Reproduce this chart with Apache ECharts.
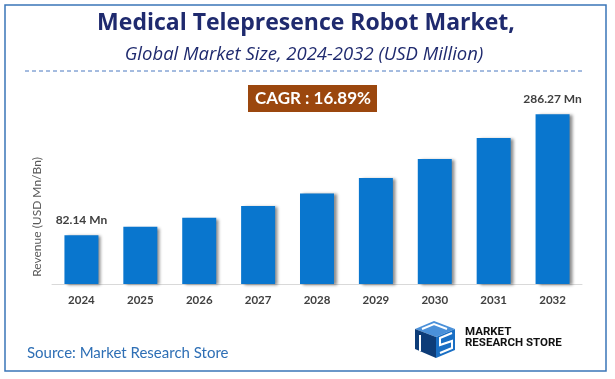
<!DOCTYPE html>
<html><head><meta charset="utf-8">
<script src="https://cdn.jsdelivr.net/npm/echarts@6/dist/echarts.min.js"></script>
<style>html,body{margin:0;padding:0;background:#fff}#c{width:615px;height:379px}</style>
</head><body><div id="c"></div>
<script>
var categories = ['2024','2025','2026','2027','2028','2029','2030','2031','2032'];
var revenue = [82.14, 96.5, 111.7, 131.3, 152.7, 178.5, 210.5, 245.9, 286.27];
var valueLabels = ['82.14 Mn','','','','','','','','286.27 Mn'];
var titleText = 'Medical Telepresence Robot Market,';
var subtitleText = 'Global Market Size, 2024-2032 (USD Million)';
var cagrText = 'CAGR : 16.89%';
var yAxisName = 'Revenue (USD Mn/Bn)';
var sourceText = 'Source: Market Research Store';

var FONT = '"Open Sans", sans-serif';
var LATO = 'Lato, sans-serif';
var chart = echarts.init(document.getElementById('c'), null, {renderer:'canvas'});
chart.setOption({
  backgroundColor:'#ffffff',
  animation:false,
  grid:{left:52, right:33, top:106, bottom:95},
  xAxis:{type:'category', data:categories,
    axisLine:{lineStyle:{color:'#d9d9d9', width:1}},
    axisTick:{show:false},
    axisLabel:{color:'#404040', fontWeight:'bold', fontSize:11.5, fontFamily:LATO, margin:10}
  },
  yAxis:{type:'value', min:0, max:300, show:false, splitLine:{show:false}},
  series:[{
    type:'bar', data:revenue, barWidth:34,
    itemStyle:{color:'#0976CE', shadowColor:'rgba(0,0,0,0.45)', shadowBlur:3, shadowOffsetX:3, shadowOffsetY:1},
    label:{show:true, position:'top', distance:9, color:'#404040', fontWeight:'bold', fontSize:12, fontFamily:LATO,
      formatter:function(p){return valueLabels[p.dataIndex];}}
  }],
  graphic:[
    {type:'rect', shape:{x:5, y:5, width:601, height:366}, style:{fill:'none', stroke:'#3a75b8', lineWidth:1.5}, silent:true},
    {type:'text', x:306, y:35, style:{text:titleText, fill:'#1f2a6e', font:'bold 23px '+FONT, textAlign:'center', textVerticalAlign:'bottom'}},
    {type:'text', x:304, y:64.5, style:{text:subtitleText, fill:'#1f2a6e', font:'italic 18.5px '+FONT, textAlign:'center', textVerticalAlign:'bottom'}},
    {type:'line', shape:{x1:25, y1:71, x2:585, y2:71}, style:{stroke:'#4a78c0', lineWidth:1, lineDash:[4,3]}},
    {type:'rect', shape:{x:248, y:85, width:129, height:27}, style:{fill:'#9b470e'}},
    {type:'text', x:313, y:98.5, style:{text:cagrText, fill:'#ffffff', font:'bold 17px '+LATO, textAlign:'center', textVerticalAlign:'middle'}},
    {type:'text', x:37, y:217, rotation:Math.PI/2, style:{text:yAxisName, fill:'#595959', font:'12px '+LATO, textAlign:'center', textVerticalAlign:'middle'}},
    {type:'text', x:27, y:353, style:{text:sourceText, fill:'#2e6fb5', font:'15px '+LATO, textVerticalAlign:'middle'}},
    // logo cube
    {type:'polygon', shape:{points:[[415,329],[434,321],[455,329],[436,337]]}, style:{fill:'#4a90d9'}},
    {type:'polygon', shape:{points:[[415,329],[436,337],[436,358],[415,349]]}, style:{fill:'#0d3c78'}},
    {type:'polygon', shape:{points:[[436,337],[455,329],[455,350],[436,358]]}, style:{fill:'#1a6fc4'}},
    {type:'polyline', shape:{points:[[422,329],[434,324],[447,329]]}, style:{stroke:'#ffffff', lineWidth:2, fill:'none'}},
    {type:'polyline', shape:{points:[[420,335],[420,351]]}, style:{stroke:'#ffffff', lineWidth:2}},
    {type:'polyline', shape:{points:[[452,333],[440,338],[440,345],[452,341],[452,348],[440,353]]}, style:{stroke:'#ffffff', lineWidth:2, fill:'none'}},
    {type:'text', x:465, y:332.5, style:{text:'MARKET', fill:'#111111', font:'bold 11.5px "Liberation Sans Narrow", Roboto, sans-serif', textVerticalAlign:'middle'}},
    {type:'text', x:465, y:343.5, style:{text:'RESEARCH STORE', fill:'#111111', font:'bold 11.5px "Liberation Sans Narrow", Roboto, sans-serif', textVerticalAlign:'middle'}}
  ]
});
</script></body></html>
